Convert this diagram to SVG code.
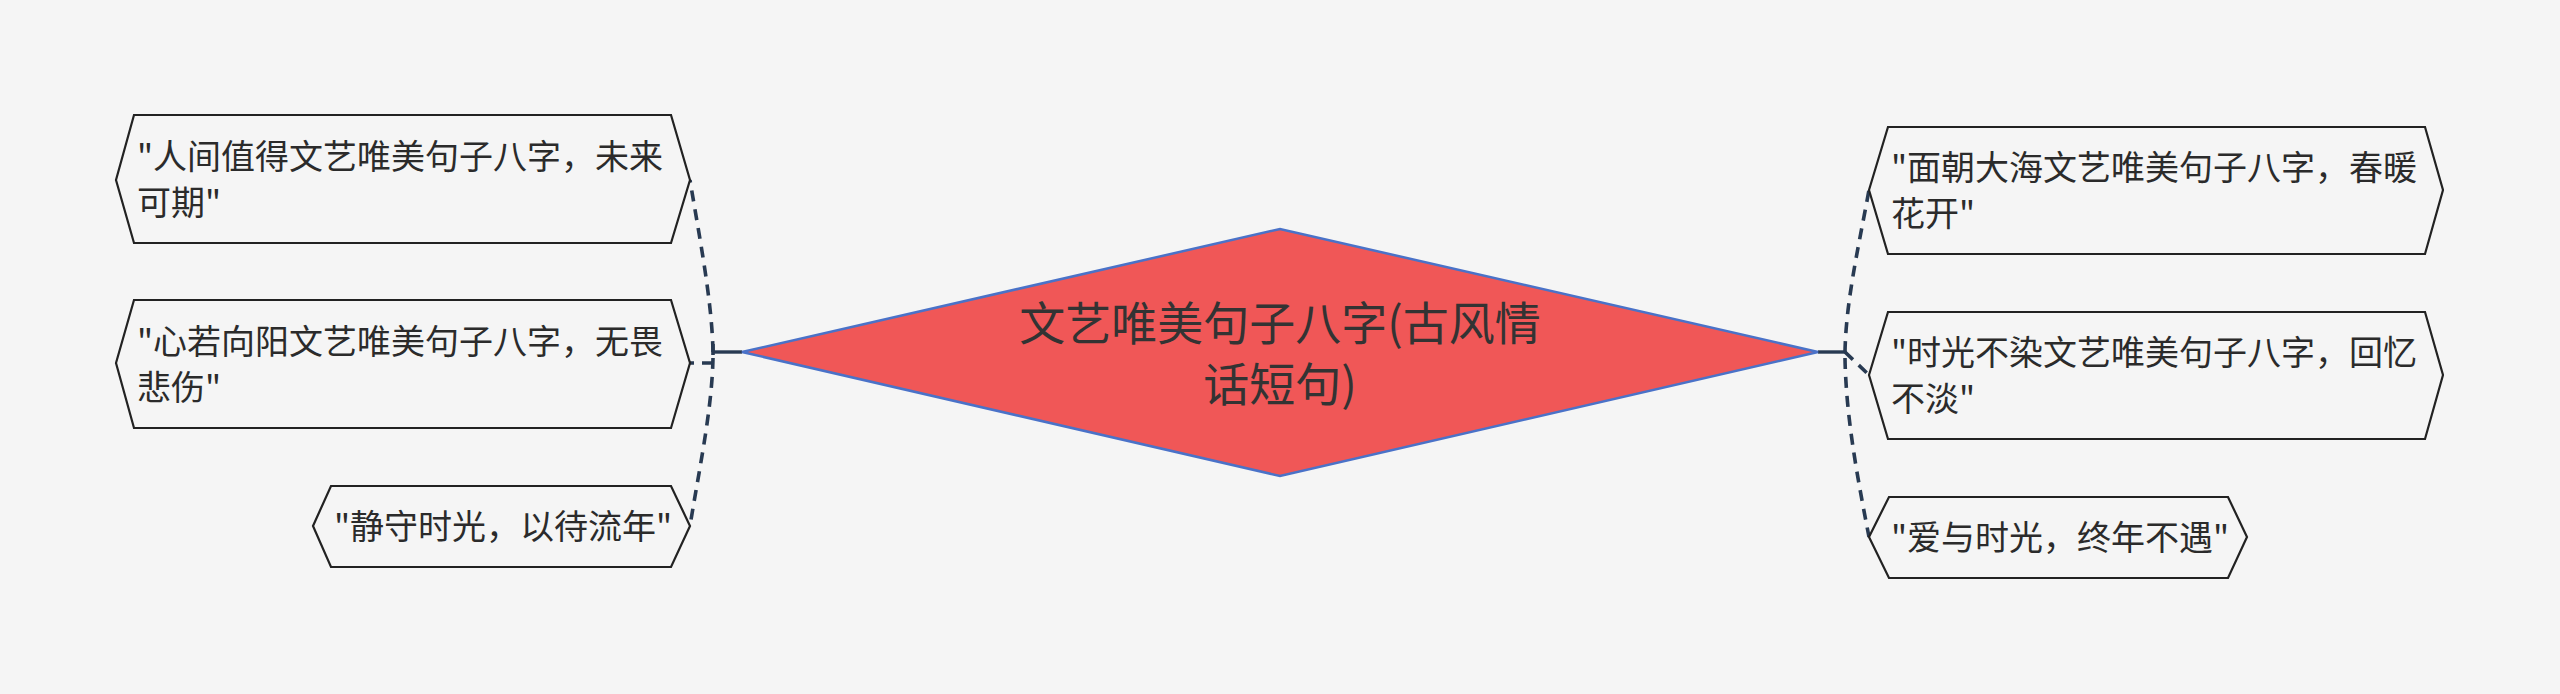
<svg xmlns="http://www.w3.org/2000/svg" width="2560" height="694" viewBox="0 0 2560 694">
<style>
.node{fill:#f5f5f5;stroke:#222;stroke-width:2.2}
.t{font-family:"Noto Sans CJK SC","Noto Sans",sans-serif;font-size:34px;fill:#2b2b2b}
.ct{font-family:"Noto Sans CJK SC","Noto Sans",sans-serif;font-size:46px;fill:#333}
.dash{fill:none;stroke:#283a52;stroke-width:3.6;stroke-dasharray:11 8}
.solid{fill:none;stroke:#283a52;stroke-width:3.4}
</style>
<rect width="2560" height="694" fill="#f5f5f5"/>
<g id="connectors">
<path class="solid" d="M742 352 L713 352"/>
<path class="dash" d="M713 352 C712 300 699 235 690 180"/>
<path class="dash" d="M713 344 L713 363 L690 363"/>
<path class="dash" d="M713 358 C712 410 699 470 690 526"/>
<path class="solid" d="M1818 352 L1845 352"/>
<path class="dash" d="M1845 352 C1846 300 1859 245 1869 190"/>
<path class="dash" d="M1845 352 L1869 375"/>
<path class="dash" d="M1845 358 C1846 420 1859 485 1869 537"/>
</g>
<g id="center">
<polygon points="742,352 1280,229 1818,352 1280,476" fill="#f05757" stroke="#4a72c8" stroke-width="2.5"/>
<text class="ct" x="1280" y="340" text-anchor="middle">文艺唯美句子八字(古风情</text>
<text class="ct" x="1280" y="401" text-anchor="middle">话短句)</text>
</g>
<g id="node-l1">
<polygon class="node" points="116,180 134,115 671,115 690,180 671,243 134,243"/>
<text class="t" x="137" y="169">"人间值得文艺唯美句子八字，未来</text>
<text class="t" x="137" y="215">可期"</text>
</g>
<g id="node-l2">
<polygon class="node" points="116,363 134,300 671,300 690,363 671,428 134,428"/>
<text class="t" x="137" y="354">"心若向阳文艺唯美句子八字，无畏</text>
<text class="t" x="137" y="400">悲伤"</text>
</g>
<g id="node-l3">
<polygon class="node" points="313,526 331,486 671,486 690,526 671,567 331,567"/>
<text class="t" x="334" y="539">"静守时光，以待流年"</text>
</g>
<g id="node-r1">
<polygon class="node" points="1869,190 1888,127 2425,127 2443,190 2425,254 1888,254"/>
<text class="t" x="1891" y="180">"面朝大海文艺唯美句子八字，春暖</text>
<text class="t" x="1891" y="226">花开"</text>
</g>
<g id="node-r2">
<polygon class="node" points="1869,375 1888,312 2425,312 2443,375 2425,439 1888,439"/>
<text class="t" x="1891" y="365">"时光不染文艺唯美句子八字，回忆</text>
<text class="t" x="1891" y="411">不淡"</text>
</g>
<g id="node-r3">
<polygon class="node" points="1869,537 1889,497 2228,497 2247,537 2228,578 1889,578"/>
<text class="t" x="1891" y="550">"爱与时光，终年不遇"</text>
</g>
</svg>
